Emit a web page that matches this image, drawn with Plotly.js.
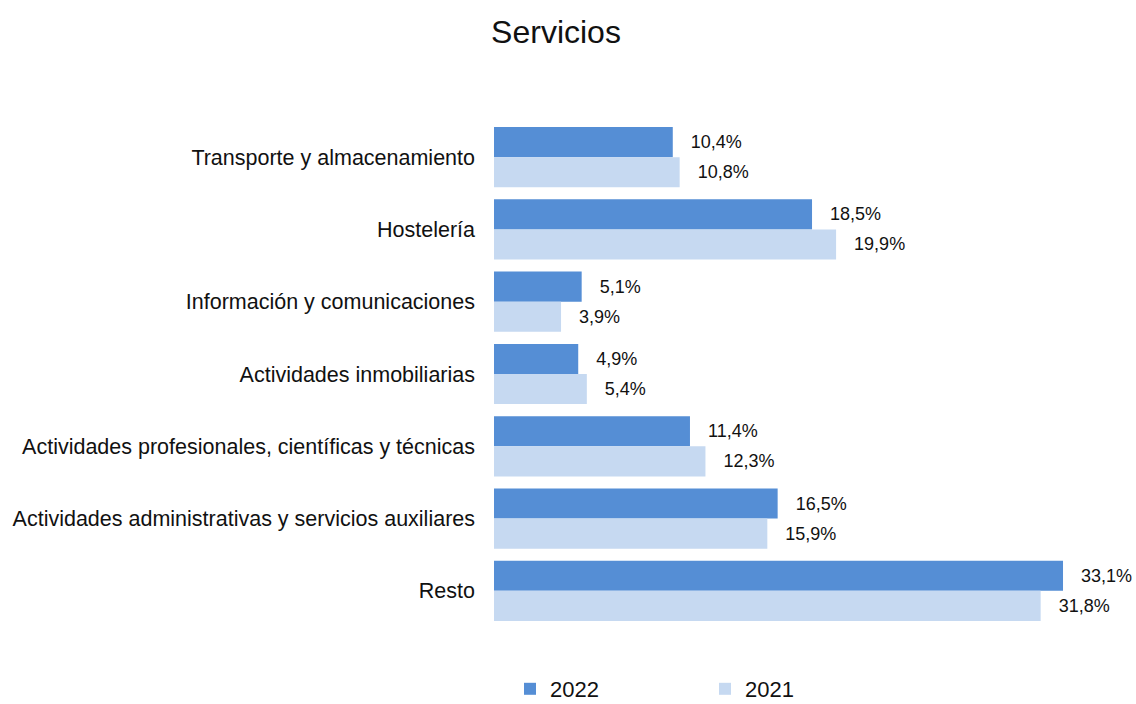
<!DOCTYPE html>
<html>
<head>
<meta charset="utf-8">
<script src="https://cdn.plot.ly/plotly-3.0.1.min.js"></script>
<style>html,body{margin:0;padding:0;background:#fff;}#chart{width:1136px;height:704px;}</style>
</head>
<body>
<div id="chart"></div>
<script>
const categories = [
  "Transporte y almacenamiento",
  "Hostelería",
  "Información y comunicaciones",
  "Actividades inmobiliarias",
  "Actividades profesionales, científicas y técnicas",
  "Actividades administrativas y servicios auxiliares",
  "Resto"
];
const values2022 = [10.4, 18.5, 5.1, 4.9, 11.4, 16.5, 33.1];
const values2021 = [10.8, 19.9, 3.9, 5.4, 12.3, 15.9, 31.8];
const seriesNames = ["2022", "2021"];

const FONT = "Liberation Sans, Arial, Helvetica, sans-serif";
const pad = "\u00a0\u00a0\u00a0";

function barTrace(name, vals, color) {
  return {
    type: "bar",
    orientation: "h",
    name: name,
    y: categories,
    x: vals,
    marker: {color: color},
    texttemplate: pad + "%{x:.1f}%",
    textposition: "outside",
    cliponaxis: false,
    textfont: {family: FONT, size: 18, color: "#111"},
    hoverinfo: "skip"
  };
}

const data = [
  barTrace(seriesNames[0], values2022, "#558ED5"),
  barTrace(seriesNames[1], values2021, "#C6D9F1")
];

const layout = {
  width: 1136,
  height: 704,
  paper_bgcolor: "#fff",
  plot_bgcolor: "#fff",
  separators: ",.",
  font: {family: FONT, color: "#111"},
  title: {text: "Servicios", font: {family: FONT, size: 32, color: "#111"}, x: 556/1136, xref: "container", xanchor: "center", y: 1 - 32/704, yref: "container", yanchor: "middle"},
  margin: {l: 494, r: 46, t: 121, b: 77},
  barmode: "group",
  bargap: 0.1667,
  bargroupgap: 0,
  xaxis: {range: [0, 34.67], visible: false, showgrid: false, zeroline: false, fixedrange: true},
  yaxis: {autorange: "reversed", showgrid: false, zeroline: false, showline: false, ticks: "", ticklabelstandoff: 18, tickfont: {family: FONT, size: 21.5, color: "#111"}},
  showlegend: true,
  legend: {orientation: "h", xref: "container", yref: "container", x: 510/1136, y: 1 - 689/704, xanchor: "left", yanchor: "middle", entrywidth: 150, entrywidthmode: "pixels", font: {family: FONT, size: 22, color: "#111"}, itemwidth: 30}
};

Plotly.newPlot("chart", data, layout, {displayModeBar: false, staticPlot: true});
</script>
</body>
</html>
